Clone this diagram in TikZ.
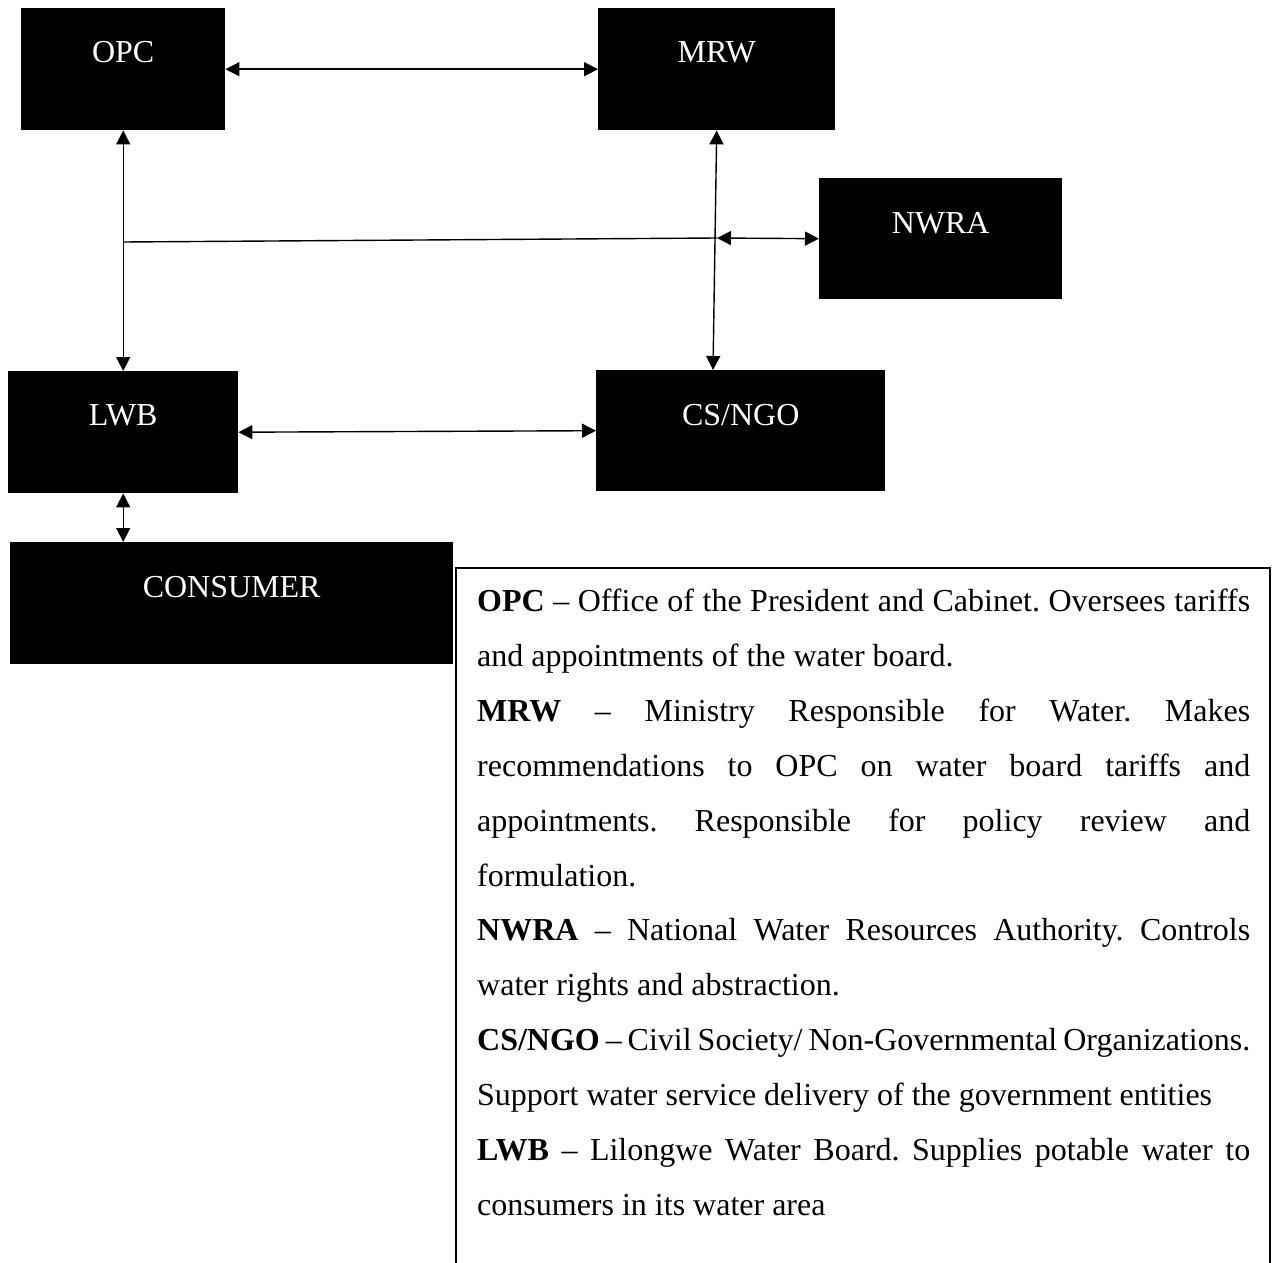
\documentclass[tikz,border=0pt]{standalone}
\usepackage{fontspec}
\setmainfont{Liberation Serif}
\usetikzlibrary{arrows.meta,calc}
\tikzset{
  blackbox/.style={fill=black, draw=none, inner sep=0pt, anchor=north west},
  boxlabel/.style={text=white, font=\fontsize{32}{38}\selectfont, anchor=base, inner sep=0pt},
  dbl/.style={line width=1.4pt, {Triangle[length=14pt,width=14pt]}-{Triangle[length=14pt,width=14pt]}},
  plainline/.style={line width=1.4pt},
  frameline/.style={line width=1.2pt},
  legendtext/.style={anchor=base west, inner sep=0pt, text width=773pt,
    font=\fontsize{32}{54.9}\selectfont}
}
\newskip\legendspace
\legendspace=8pt plus 20pt minus 3pt
\newcommand{\jline}[1]{\hbox to 773pt{\spaceskip=\legendspace #1}}
\newcommand{\lline}[1]{\hbox to 773pt{\spaceskip=\legendspace #1\hfil}}
\begin{document}
\frenchspacing
\begin{tikzpicture}[x=1pt,y=-1pt]
\useasboundingbox (0,0) rectangle (1278,1263);
% boxes
\node[blackbox, minimum width=204pt, minimum height=122pt] (opc) at (21,8) {};
\node[blackbox, minimum width=237pt, minimum height=122pt] (mrw) at (598,8) {};
\node[blackbox, minimum width=243pt, minimum height=121pt] (nwra) at (819,178) {};
\node[blackbox, minimum width=230pt, minimum height=122pt] (lwb) at (8,371) {};
\node[blackbox, minimum width=289pt, minimum height=121pt] (cs) at (596,370) {};
\node[blackbox, minimum width=443pt, minimum height=122pt] (cons) at (10,542) {};
% labels
\node[boxlabel] (opcT) at ($(opc.north)+(0,55)$) {OPC};
\node[boxlabel] (mrwT) at ($(mrw.north)+(0,55)$) {MRW};
\node[boxlabel] (nwraT) at ($(nwra.north)+(0,55)$) {NWRA};
\node[boxlabel] (lwbT) at ($(lwb.north)+(0,54)$) {LWB};
\node[boxlabel] (csT) at ($(cs.north)+(0,55)$) {CS/NGO};
\node[boxlabel] (consT) at ($(cons.north)+(0,55)$) {CONSUMER};
% connectors
\coordinate (j1) at (123,242);
\coordinate (j2) at (717,238);
\draw[dbl] (opc.east) -- (mrw.west);
\draw[dbl] (opc.south) -- (lwb.north);
\draw[plainline] (j1) -- (j2);
\draw[dbl] (j2) -- (nwra.west);
\draw[dbl] (mrw.south) -- (713,0 |- cs.north);
\draw[dbl] (lwb.east) -- (cs.west);
\draw[dbl] (lwb.south) -- (lwb.south |- cons.north);
% legend frame
\draw[frameline] (456,1270) -- (456,568) -- (1270,568) -- (1270,1270);
\node[legendtext] (legend) at (477,611.5) {%
\jline{\textbf{OPC} – Office of the President and Cabinet. Oversees tariffs}
\lline{and appointments of the water board.}
\jline{\textbf{MRW} – Ministry Responsible for Water. Makes}
\jline{recommendations to OPC on water board tariffs and}
\jline{appointments. Responsible for policy review and}
\lline{formulation.}
\jline{\textbf{NWRA} – National Water Resources Authority. Controls}
\lline{water rights and abstraction.}
\jline{\textbf{CS/NGO} – Civil Society/ Non-Governmental Organizations.}
\lline{Support water service delivery of the government entities}
\jline{\textbf{LWB} – Lilongwe Water Board. Supplies potable water to}
\lline{consumers in its water area}};
\end{tikzpicture}
\end{document}
